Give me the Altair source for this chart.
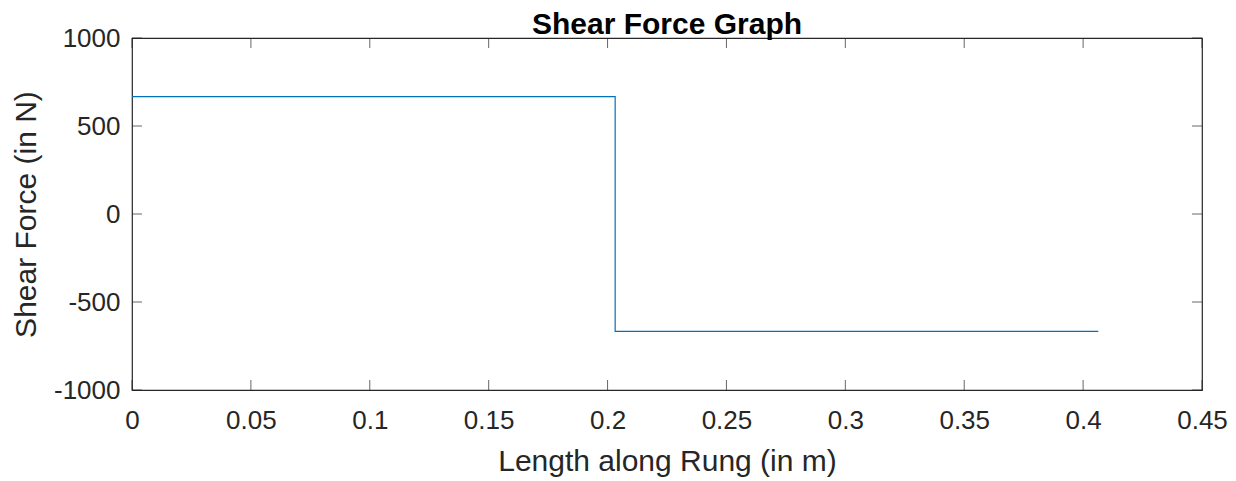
import altair as alt
import pandas as pd

# Shear force diagram data
length_m = [0.0, 0.2032, 0.2032, 0.4064]
shear_n = [667, 667, -667, -667]

x_ticks = [0, 0.05, 0.1, 0.15, 0.2, 0.25, 0.3, 0.35, 0.4, 0.45]
y_ticks = [-1000, -500, 0, 500, 1000]

W, H = 1070, 352
AX = "#262626"
FONT = "Liberation Sans"

df = pd.DataFrame({"x": length_m, "y": shear_n, "order": list(range(len(length_m)))})
xt = pd.DataFrame({"x": x_ticks})
yt = pd.DataFrame({"y": y_ticks})

xs = alt.Scale(domain=[0, 0.45], nice=False, zero=False)
ys = alt.Scale(domain=[-1000, 1000], nice=False, zero=False)

xaxis = alt.Axis(title="Length along Rung (in m)", values=x_ticks, ticks=False,
                 domain=False, grid=False, labelPadding=17, titlePadding=13,
                 labelFlush=False, labelExpr="'' + datum.value")
yaxis = alt.Axis(title="Shear Force (in N)", values=y_ticks, ticks=False,
                 domain=False, grid=False, labelPadding=12, titlePadding=12,
                 labelFlush=False, labelExpr="'' + datum.value")

line = alt.Chart(df).mark_line(color="#0072BD", strokeWidth=1.2).encode(
    x=alt.X("x:Q", scale=xs, axis=xaxis),
    y=alt.Y("y:Q", scale=ys, axis=yaxis),
    order="order:Q",
)

tick_len = 10
bot = alt.Chart(xt).mark_tick(color=AX, size=tick_len, thickness=1).encode(
    x=alt.X("x:Q", scale=xs, axis=xaxis), y=alt.value(H - tick_len / 2))
top = alt.Chart(xt).mark_tick(color=AX, size=tick_len, thickness=1).encode(
    x=alt.X("x:Q", scale=xs, axis=xaxis), y=alt.value(tick_len / 2))
left = alt.Chart(yt).mark_tick(color=AX, size=tick_len, thickness=1).encode(
    y=alt.Y("y:Q", scale=ys, axis=yaxis), x=alt.value(tick_len / 2))
right = alt.Chart(yt).mark_tick(color=AX, size=tick_len, thickness=1).encode(
    y=alt.Y("y:Q", scale=ys, axis=yaxis), x=alt.value(W - tick_len / 2))

chart = alt.layer(line, bot, top, left, right).properties(
    width=W, height=H,
    title=alt.Title("Shear Force Graph", font=FONT, fontSize=30, fontWeight="bold",
                    color="#000000", anchor="middle", offset=-15),
    autosize=alt.AutoSizeParams(type="none"),
    padding={"left": 124, "top": 30, "right": 26, "bottom": 90},
    background="white",
).configure_view(
    stroke=AX, strokeWidth=1.2
).configure_axis(
    labelFont=FONT, labelFontSize=26, labelColor=AX,
    titleFont=FONT, titleFontSize=30, titleColor=AX, titleFontWeight="normal",
)

chart.save("out.html", embed_options={"renderer": "svg", "actions": False})
